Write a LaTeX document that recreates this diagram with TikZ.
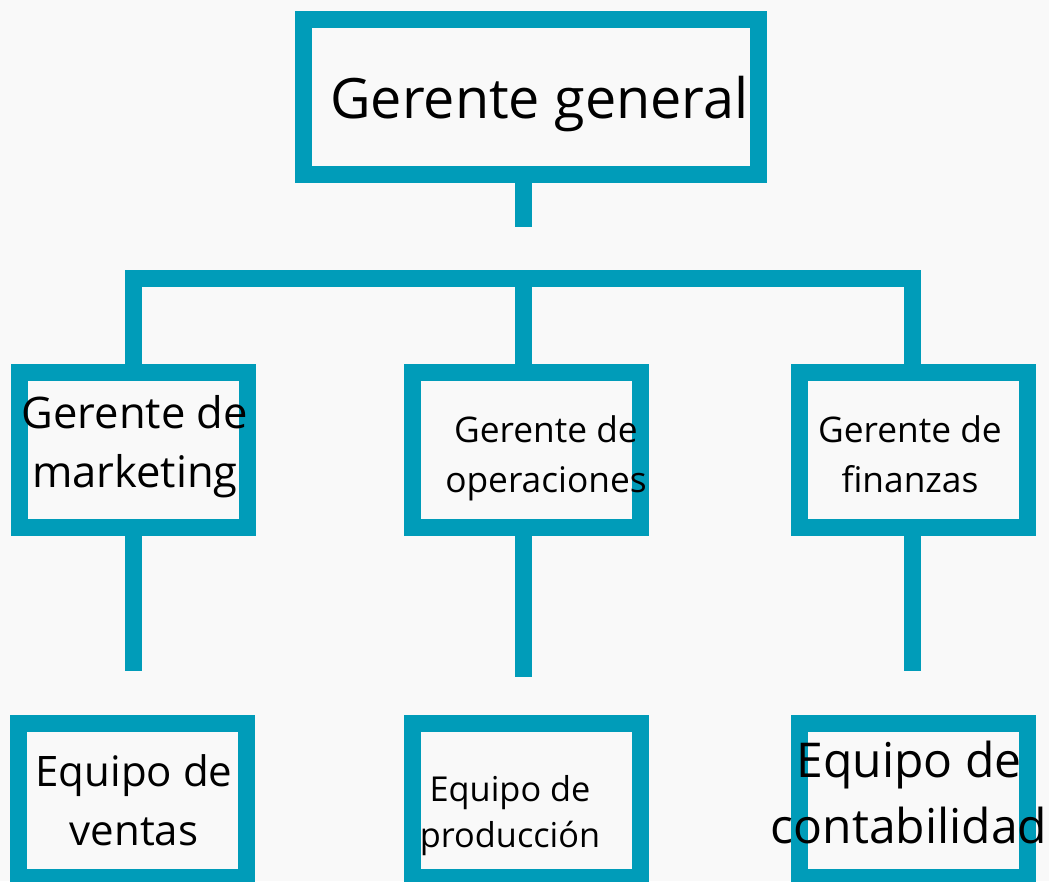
\documentclass[tikz,border=0pt]{standalone}
\usepackage{fontspec}
\setmainfont{Open Sans}
\definecolor{teal}{HTML}{009CB9}
\definecolor{paper}{HTML}{F9F9F9}
\tikzset{
  box/.style={draw=teal, line width=17pt, fill=paper, inner sep=0pt, minimum width=228pt, minimum height=155pt},
  txt/.style={align=center, inner sep=0pt, anchor=base},
  bar/.style={draw=teal, line width=17pt, line cap=butt, line join=miter}
}
\begin{document}
\begin{tikzpicture}[x=1pt, y=-1pt]
\clip (0,0) rectangle (1049,881);
\fill[paper] (0,0) rectangle (1049,881);
\node[box, minimum width=455pt] (gg) at (531,96.5){};
\node[box] (gm) at (133.5,450){};
\node[box] (go) at (526.5,450){};
\node[box] (gf) at (913.5,450){};
\node[box, minimum height=154pt] (ev) at (132.5,800.5){};
\node[box, minimum height=154pt] (ep) at (526.5,800.5){};
\node[box, minimum height=154pt] (ec) at (913,800.5){};
\coordinate (gg-end) at (523.5,227);
\coordinate (gm-end) at (133.5,671);
\coordinate (go-end) at (523.5,677);
\coordinate (gf-end) at (912.5,671);
\draw[bar](gg.south -| gg-end) -- (gg-end);
\draw[bar](gm.north -| 133.5,0) -- (133.5,278.5) -- (912.5,278.5) -- (gf.north -| 912.5,0);
\draw[bar](523.5,278.5) -- (go.north -| 523.5,0);
\draw[bar](gm.south -| gm-end) -- (gm-end);
\draw[bar](go.south -| go-end) -- (go-end);
\draw[bar](gf.south -| gf-end) -- (gf-end);
\node[txt, font=\fontsize{55.7}{75}\selectfont] (gg-t) at (539.5,118){Gerente general};
\node[txt, font=\fontsize{43.5}{59}\selectfont] (gm-t) at (135,487){Gerente de\\marketing};
\node[txt, font=\fontsize{35.3}{50}\selectfont] (go-t) at (546,492){Gerente de\\operaciones};
\node[txt, font=\fontsize{35.3}{50}\selectfont] (gf-t) at (910,492){Gerente de\\finanzas};
\node[txt, font=\fontsize{42}{59}\selectfont] (ev-t) at (134,845){Equipo de\\ventas};
\node[txt, font=\fontsize{34.3}{46}\selectfont] (ep-t) at (510,847){Equipo de\\producción};
\node[txt, font=\fontsize{48}{66}\selectfont] (ec-t) at (909,843){Equipo de\\contabilidad};
\end{tikzpicture}
\end{document}
